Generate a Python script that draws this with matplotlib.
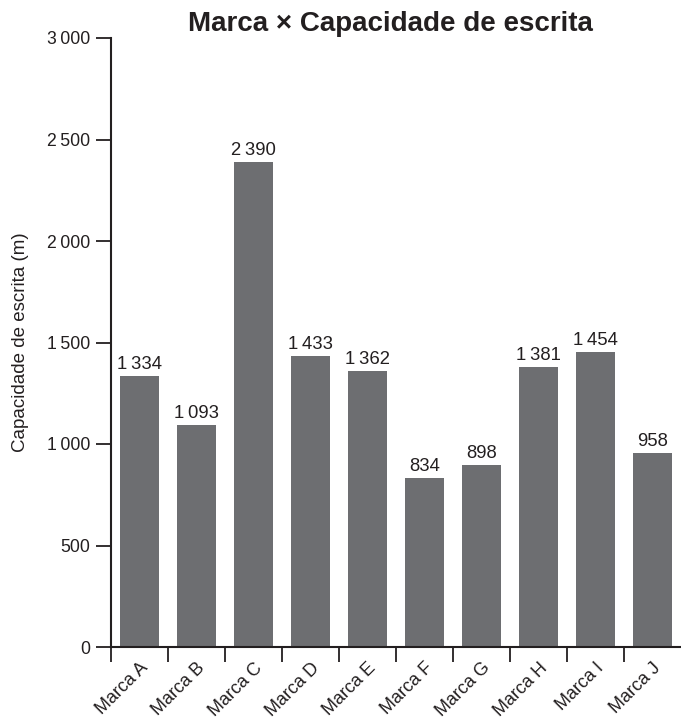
import matplotlib
matplotlib.use("Agg")
import matplotlib.pyplot as plt
import numpy as np
from matplotlib.ticker import FuncFormatter, FixedLocator

plt.rcParams['font.family'] = ['Liberation Sans', 'DejaVu Sans']

categories = ["Marca A", "Marca B", "Marca C", "Marca D", "Marca E",
              "Marca F", "Marca G", "Marca H", "Marca I", "Marca J"]
values = [1334, 1093, 2390, 1433, 1362, 834, 898, 1381, 1454, 958]
y_ticks = [0, 500, 1000, 1500, 2000, 2500, 3000]
title = "Marca × Capacidade de escrita"
ylabel = "Capacidade de escrita (m)"

ink = "#231f20"
bar_color = "#6d6e71"


def fmt(v):
    s = f"{int(round(v)):,}"
    return s.replace(",", "\u2009")


fig = plt.figure(figsize=(6.81, 7.19), dpi=100)
ax = fig.add_axes([111 / 681, 1 - 647 / 719, 570 / 681, (647 - 38) / 719])

x = np.arange(len(categories))
bars = ax.bar(x, values, width=0.70, color=bar_color, zorder=2)

for xi, v in zip(x, values):
    ax.annotate(fmt(v), (xi, v), xytext=(0, 2.0), textcoords="offset points",
                ha="center", va="bottom", fontsize=13.3, color=ink)

ax.set_xlim(-0.5, len(categories) - 0.5)
ax.set_ylim(0, 3000)
ax.set_yticks(y_ticks)
ax.yaxis.set_major_formatter(FuncFormatter(lambda v, p: fmt(v)))

ax.set_xticks(x)
ax.set_xticklabels(categories, rotation=45, ha="right", rotation_mode="anchor",
                   fontsize=13, color=ink)
ax.xaxis.set_minor_locator(FixedLocator(x[:] - 0.5))
ax.tick_params(axis="x", which="major", length=0, pad=9)
ax.tick_params(axis="x", which="minor", length=10.5, width=1.3, color=ink)
ax.tick_params(axis="y", length=10.5, width=1.3, color=ink, labelsize=12.7,
               labelcolor=ink, pad=4.5)

for side in ["top", "right"]:
    ax.spines[side].set_visible(False)
for side in ["left", "bottom"]:
    ax.spines[side].set_linewidth(1.5)
    ax.spines[side].set_color(ink)

ax.set_ylabel(ylabel, fontsize=13.5, color=ink, labelpad=13)
ax.set_title(title, fontsize=20, fontweight="bold", color=ink, pad=5, x=0.49)

fig.savefig("out.png", dpi=100)
